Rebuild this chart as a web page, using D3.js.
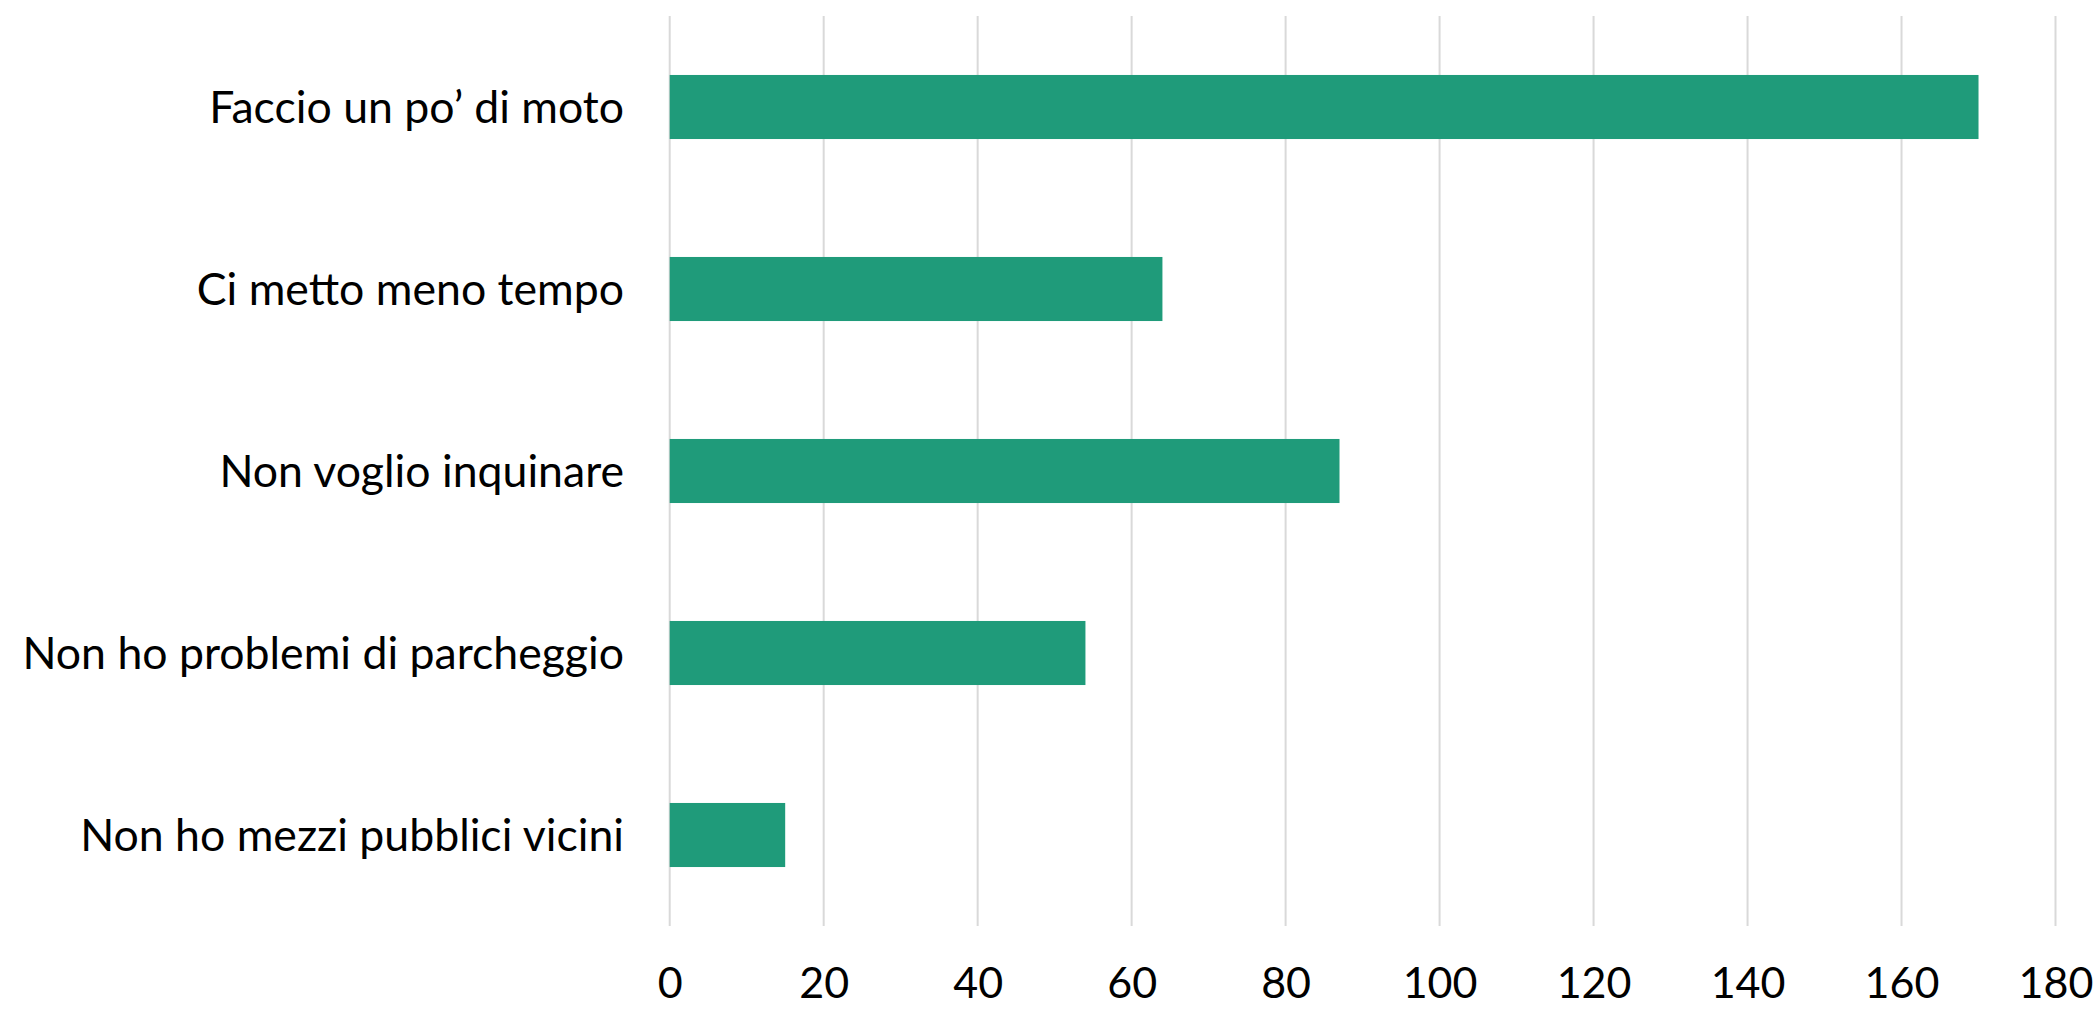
<!DOCTYPE html>
<html><head><meta charset="utf-8">
<script src="https://cdn.jsdelivr.net/npm/d3@7"></script>
<style>html,body{margin:0;padding:0;background:#fff;} svg{display:block;}</style>
</head><body>
<svg id="chart" width="2100" height="1009"></svg>
<script>
const categories = ["Faccio un po’ di moto", "Ci metto meno tempo", "Non voglio inquinare", "Non ho problemi di parcheggio", "Non ho mezzi pubblici vicini"];
const values = [170, 64, 87, 54, 15];
const tickValues = [0, 20, 40, 60, 80, 100, 120, 140, 160, 180];

const svg = d3.select("#chart");
const x = d3.scaleLinear().domain([0, 180]).range([669.7, 2055.5]);
const y = d3.scaleBand().domain(categories).range([16, 926]).paddingInner(0.648).paddingOuter(0.324);
const font = "Lato, 'Open Sans', sans-serif";

// gridlines
svg.append("g").selectAll("line").data(tickValues).join("line")
  .attr("x1", d => x(d)).attr("x2", d => x(d))
  .attr("y1", 16).attr("y2", 926)
  .attr("stroke", "#d9d9d9").attr("stroke-width", 2);

// bars
svg.append("g").selectAll("rect").data(values).join("rect")
  .attr("x", x(0))
  .attr("y", (d, i) => y(categories[i]))
  .attr("width", d => x(d) - x(0))
  .attr("height", y.bandwidth())
  .attr("fill", "#1f9b7a");

// x axis labels
const xAxis = d3.axisBottom(x).tickValues(tickValues).tickSize(0).tickPadding(0).tickFormat(d3.format("d"));
const gx = svg.append("g").attr("transform", "translate(0,967)").call(xAxis);
gx.select(".domain").remove();
gx.selectAll("text").attr("font-family", font).attr("font-size", 43).attr("fill", "#000").attr("dy", "0.71em");

// y axis labels
const yAxis = d3.axisLeft(y).tickSize(0).tickPadding(0);
const gy = svg.append("g").attr("transform", "translate(624,0)").call(yAxis);
gy.select(".domain").remove();
gy.selectAll("text").attr("font-family", font).attr("font-size", 44.6).attr("fill", "#000").attr("dy", "0.35em");
</script>
</body></html>
